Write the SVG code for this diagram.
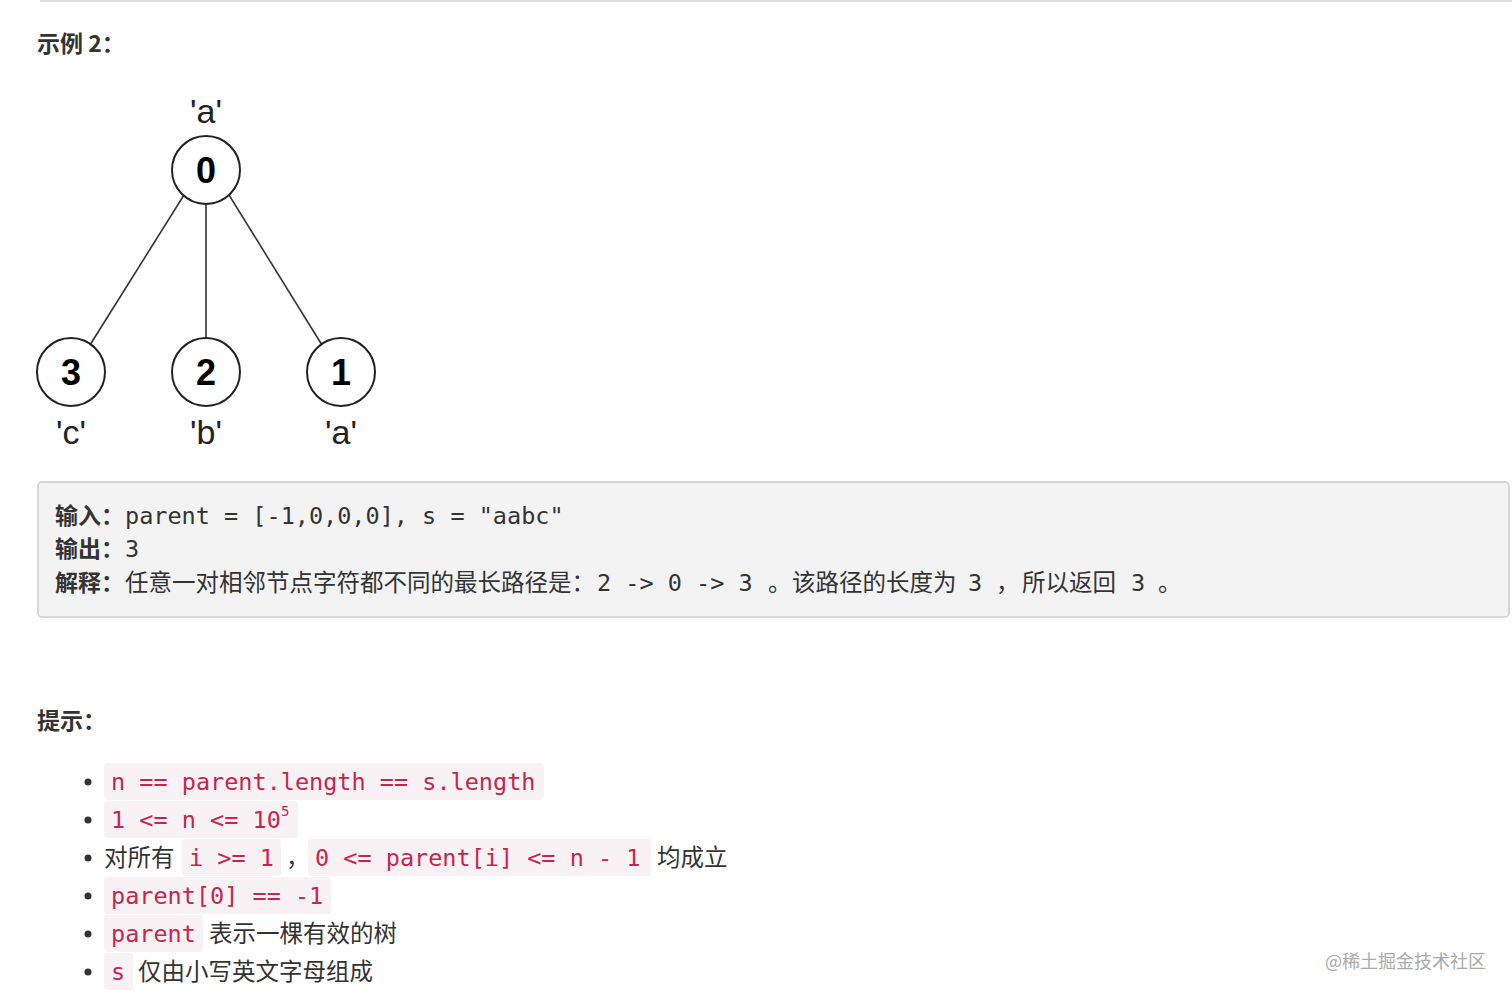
<svg xmlns="http://www.w3.org/2000/svg" width="1512" height="998" viewBox="0 0 1512 998">
<style>
.h{font-family:"Noto Sans CJK SC","Liberation Sans",sans-serif;font-weight:bold;font-size:23px;fill:#333}
.num{font-family:"Liberation Sans",Arial,sans-serif;font-weight:bold;font-size:36px;fill:#000;text-anchor:middle}
.lbl{font-family:"Liberation Sans",Arial,sans-serif;font-size:34px;fill:#222;text-anchor:middle}
.node{fill:#fff;stroke:#222;stroke-width:2}
.edge{stroke:#333;stroke-width:1.6;fill:none}
.pre{font-family:"DejaVu Sans Mono","Noto Sans CJK SC",monospace;font-size:23.5px;fill:#333}
.b{font-family:"Noto Sans CJK SC",sans-serif;font-weight:bold;font-size:23px;fill:#333}
.cjk{font-family:"Noto Sans CJK SC",sans-serif;font-size:23.5px;fill:#333}
.code{font-family:"DejaVu Sans Mono",monospace;font-size:23.5px;fill:#c7254e}
.cbg{fill:#f9f2f4}
.bul{fill:#333}
</style>
<line x1="40" y1="1" x2="1512" y2="1" stroke="#ddd" stroke-width="2"/>
<text class="h" x="37" y="52">示例 2：</text>

<g id="connectors">
<line class="edge" x1="184" y1="195" x2="90" y2="345"/>
<line class="edge" x1="206" y1="204" x2="206" y2="338"/>
<line class="edge" x1="229" y1="195" x2="322" y2="345"/>
</g>
<g id="node0"><circle class="node" cx="206" cy="170" r="34"/><text class="num" x="206" y="183">0</text><text class="lbl" x="206" y="123">'a'</text></g>
<g id="node3"><circle class="node" cx="71" cy="372" r="34"/><text class="num" x="71" y="385">3</text><text class="lbl" x="71" y="444">'c'</text></g>
<g id="node2"><circle class="node" cx="206" cy="372" r="34"/><text class="num" x="206" y="385">2</text><text class="lbl" x="206" y="444">'b'</text></g>
<g id="node1"><circle class="node" cx="341" cy="372" r="34"/><text class="num" x="341" y="385">1</text><text class="lbl" x="341" y="444">'a'</text></g>

<g id="example">
<rect x="38" y="482" width="1471" height="135" rx="4" fill="#f3f3f3" stroke="#ccc" stroke-width="1.5"/>
<text class="b" x="55" y="524">输入：</text>
<text class="pre" x="125" y="524" xml:space="preserve">parent = [-1,0,0,0], s = "aabc"</text>
<text class="b" x="55" y="557">输出：</text>
<text class="pre" x="125" y="557">3</text>
<text class="b" x="55" y="591">解释：</text>
<text class="pre" y="591" xml:space="preserve"><tspan x="125">任意一对相邻节点字符都不同的最长路径是：</tspan><tspan x="597">2 -&gt; 0 -&gt; 3</tspan><tspan x="768">。</tspan><tspan x="792">该路径的长度为</tspan><tspan x="968">3</tspan><tspan x="996">，</tspan><tspan x="1022">所以返回</tspan><tspan x="1131">3</tspan><tspan x="1158">。</tspan></text>
</g>

<text class="h" x="37" y="729">提示：</text>

<g id="constraints">
<circle class="bul" cx="88" cy="782" r="3.5"/>
<rect class="cbg" x="104" y="763" width="440" height="37" rx="3"/>
<text class="code" x="111" y="790" xml:space="preserve">n == parent.length == s.length</text>

<circle class="bul" cx="88" cy="820" r="3.5"/>
<rect class="cbg" x="104" y="801" width="194" height="37" rx="3"/>
<text class="code" x="111" y="828" xml:space="preserve">1 &lt;= n &lt;= 10</text>
<text class="code" x="281" y="816" style="font-size:14px">5</text>

<circle class="bul" cx="88" cy="858" r="3.5"/>
<text class="cjk" x="104" y="866">对所有</text>
<rect class="cbg" x="182" y="839" width="99" height="37" rx="3"/>
<text class="code" x="189" y="866" xml:space="preserve">i &gt;= 1</text>
<text class="cjk" x="286" y="866">，</text>
<rect class="cbg" x="308" y="839" width="343" height="37" rx="3"/>
<text class="code" x="315" y="866" xml:space="preserve">0 &lt;= parent[i] &lt;= n - 1</text>
<text class="cjk" x="657" y="866">均成立</text>

<circle class="bul" cx="88" cy="896" r="3.5"/>
<rect class="cbg" x="104" y="877" width="227" height="37" rx="3"/>
<text class="code" x="111" y="904" xml:space="preserve">parent[0] == -1</text>

<circle class="bul" cx="88" cy="934" r="3.5"/>
<rect class="cbg" x="104" y="915" width="99" height="37" rx="3"/>
<text class="code" x="111" y="942">parent</text>
<text class="cjk" x="209" y="942">表示一棵有效的树</text>

<circle class="bul" cx="88" cy="972" r="3.5"/>
<rect class="cbg" x="104" y="953" width="29" height="37" rx="3"/>
<text class="code" x="111" y="980">s</text>
<text class="cjk" x="138" y="980">仅由小写英文字母组成</text>
</g>

<text x="1325" y="968" style="font-family:'Noto Sans CJK SC',sans-serif;font-size:18px;fill:#aaa">@稀土掘金技术社区</text>
</svg>
